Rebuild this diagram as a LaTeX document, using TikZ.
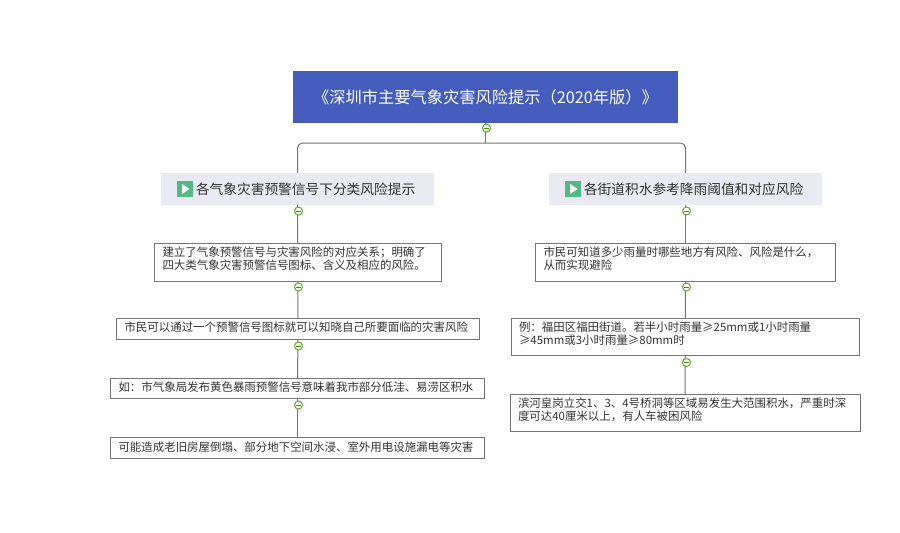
\documentclass[tikz,border=0pt]{standalone}
\usepackage{fontspec}
\setmainfont{Noto Sans CJK SC}
\definecolor{rootblue}{HTML}{445DBC}
\definecolor{headgray}{HTML}{E9EAF2}
\definecolor{linegray}{HTML}{767676}
\definecolor{textgray}{HTML}{333333}
\definecolor{togglegreen}{HTML}{58B01C}
\definecolor{iconscreen}{HTML}{52BA84}
\tikzset{
  rootbox/.style={fill=rootblue,text=white,inner sep=0pt,minimum width=385pt,minimum height=52pt,font=\fontsize{16.25}{20}\selectfont},
  headbox/.style={fill=headgray,text=textgray,inner sep=0pt,text width=273pt,align=left,minimum height=32pt,font=\fontsize{13.7}{18}\selectfont},
  bodybox/.style={draw=linegray,line width=1pt,outer sep=0pt,fill=white,text=textgray,inner xsep=8pt,inner ysep=0pt,align=left,anchor=north west,
    text width=#1-16pt,font=\fontsize{11.45}{12.7}\selectfont,text height=13.5pt},
  conn/.style={draw=linegray,line width=1pt},
  togglemark/.style={circle,draw=togglegreen,line width=1pt,fill=white,inner sep=0pt,minimum size=8pt,
    path picture={\draw[togglegreen!80!black,line width=1pt] ([xshift=-2.6pt]path picture bounding box.center) -- ([xshift=2.6pt]path picture bounding box.center);}},
  playicon/.style={fill=iconscreen,inner sep=0pt,minimum size=16pt,
    path picture={\fill[white] ([xshift=-3pt,yshift=5pt]path picture bounding box.center) -- ([xshift=4.5pt]path picture bounding box.center) -- ([xshift=-3pt,yshift=-5pt]path picture bounding box.center) -- cycle;}},
}
\begin{document}
\begin{tikzpicture}[x=1pt,y=-1pt]
\useasboundingbox[fill=white] (0,0) rectangle (900,533);
\node[rootbox] (root) at (485.5,97) {\raisebox{1pt}{《深圳市主要气象灾害风险提示（2020年版）》}};
\node[headbox] (h1) at (297.5,189) {\hspace*{35pt}\raisebox{1pt}{各气象灾害预警信号下分类风险提示}};
\node[headbox] (h2) at (685.5,189) {\hspace*{35pt}\raisebox{1pt}{各街道积水参考降雨阈值和对应风险}};
\node[playicon] (i1) at (185,189) {};
\node[playicon] (i2) at (573,189) {};
\node[bodybox=286.5pt,text depth=24.5pt] (a1) at (154.5,243) {建立了气象预警信号与灾害风险的对应关系；明确了\\四大类气象灾害预警信号图标、含义及相应的风险。};
\node[bodybox=363pt,text depth=7.5pt] (a2) at (116.5,318) {市民可以通过一个预警信号图标就可以知晓自己所要面临的灾害风险};
\node[bodybox=374pt,text depth=7pt] (a3) at (110.5,378) {如：市气象局发布黄色暴雨预警信号意味着我市部分低洼、易涝区积水};
\node[bodybox=374pt,text depth=7pt] (a4) at (110.5,437.5) {可能造成老旧房屋倒塌、部分地下空间水浸、室外用电设施漏电等灾害};
\node[bodybox=300pt,text depth=24.5pt] (b1) at (535.5,243) {市民可知道多少雨量时哪些地方有风险、风险是什么，\\从而实现避险};
\node[bodybox=348.5pt,text depth=24pt] (b2) at (511,318) {例：福田区福田街道。若半小时雨量≥25mm或1小时雨量\\≥45mm或3小时雨量≥80mm时};
\node[bodybox=350pt,text depth=24pt] (b3) at (510,394) {滨河皇岗立交1、3、4号桥洞等区域易发生大范围积水，严重时深\\度可达40厘米以上，有人车被困风险};
\coordinate (fork) at (485.5,143);
\draw[conn] (root.south) -- (fork);
\draw[conn,rounded corners=5pt] (h1.north) |- (fork) -| (h2.north);
\draw[conn] (h1.south) -- (a1.north);
\draw[conn] (a1.south) -- (a2.north);
\draw[conn] (a2.south) -- (a3.north);
\draw[conn] (a3.south) -- (a4.north);
\draw[conn] (h2.south) -- (b1.north);
\draw[conn] (b1.south) -- (b2.north);
\draw[conn] (b2.south) -- (b3.north);
\node[togglemark] (t0) at (486.5,128) {};
\node[togglemark] (t1) at (298.5,211) {};
\node[togglemark] (t2) at (298.5,287) {};
\node[togglemark] (t3) at (298.5,346) {};
\node[togglemark] (t4) at (298.5,405) {};
\node[togglemark] (t5) at (686.5,211) {};
\node[togglemark] (t6) at (686.5,287) {};
\node[togglemark] (t7) at (686.5,362.5) {};
\end{tikzpicture}
\end{document}
